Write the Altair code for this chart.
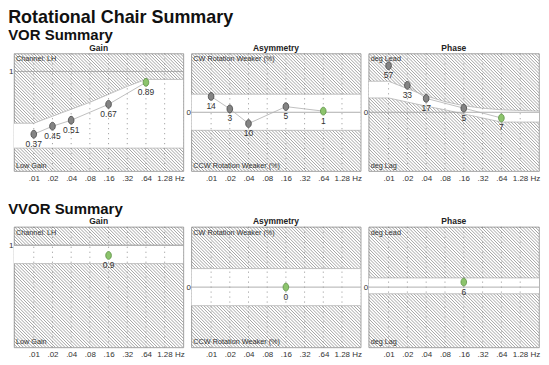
import altair as alt
import pandas as pd

# ---------------- data ----------------
tick_freqs = [0.01, 0.02, 0.04, 0.08, 0.16, 0.32, 0.64, 1.28]
tick_labels = [".01", ".02", ".04", ".08", ".16", ".32", ".64", "1.28 Hz"]

vor_freq = [0.01, 0.02, 0.04, 0.16, 0.64]
vor_gain = [0.37, 0.45, 0.51, 0.67, 0.89]
vor_gain_text = ["0.37", "0.45", "0.51", "0.67", "0.89"]
vor_asym = [14, 3, -10, 5, 1]
vor_asym_text = ["14", "3", "10", "5", "1"]
vor_phase = [57, 33, 17, 5, -7]
vor_phase_text = ["57", "33", "17", "5", "7"]
vor_current = [False, False, False, False, True]

vvor_freq = [0.16]
vvor_gain = [0.9]
vvor_gain_text = ["0.9"]
vvor_asym = [0]
vvor_asym_text = ["0"]
vvor_phase = [6]
vvor_phase_text = ["6"]
vvor_current = [True]

# normal-range bands
band_freq = [0.0048, 0.01, 0.02, 0.04, 0.08, 0.16, 0.32, 0.64, 2.56]
vor_gain_lo = [0.23, 0.23, 0.23, 0.23, 0.23, 0.23, 0.23, 0.23, 0.23]
vor_gain_hi = [0.48, 0.48, 0.55, 0.62, 0.69, 0.77, 0.85, 0.92, 0.92]
vor_asym_lo = [-16, -16, -16, -16, -16, -16, -16, -16, -16]
vor_asym_hi = [16, 16, 16, 16, 16, 16, 16, 16, 16]
vor_phase_lo = [17.5, 17.5, 12.5, 7.5, 3, -2, -7, -12, -12]
vor_phase_hi = [38, 38, 29, 20, 13, 8, 5, 3, 1.5]
vvor_gain_lo = [0.82, 0.82, 0.82, 0.82, 0.82, 0.82, 0.82, 0.82, 0.82]
vvor_gain_hi = [1.0, 1.0, 1.0, 1.0, 1.0, 1.0, 1.0, 1.0, 1.0]
vvor_asym_lo = [-16, -16, -16, -16, -16, -16, -16, -16, -16]
vvor_asym_hi = [16, 16, 16, 16, 16, 16, 16, 16, 16]
vvor_phase_lo = [-8, -8, -8, -8, -8, -8, -8, -8, -8]
vvor_phase_hi = [11, 11, 11, 11, 11, 11, 11, 11, 11]

# ---------------- style ----------------
FONT = "Liberation Sans"
XMIN, XMAX = 0.0048, 2.56
HATCH = "#858585"
W1, W2, W3 = 170, 170, 171
H1, H2 = 118, 121

label_expr = " : ".join(
    f"datum.value == {f} ? '{t}'" for f, t in zip(tick_freqs, tick_labels)
) + " : ''"

XAXIS = alt.Axis(
    values=tick_freqs, labelExpr=label_expr, ticks=False, domain=False,
    grid=False, labelFontSize=8, labelColor="#333", labelPadding=3,
    labelFont=FONT, title=None,
    labelAlign={"condition": {"test": "datum.value > 1", "value": "left"}, "value": "center"},
    labelOffset={"condition": {"test": "datum.value > 1", "value": -8}, "value": 0},
)


def yaxis(v):
    return alt.Axis(values=[v], ticks=False, domain=False, grid=False,
                    labelFontSize=8, labelColor="#333", labelPadding=1,
                    labelFont=FONT, title=None)


def X(field):
    return alt.X(field, type="quantitative",
                 scale=alt.Scale(type="log", domain=[XMIN, XMAX], nice=False),
                 axis=XAXIS)


def panel(title, W, H, ydom, yval, freq, vals, texts, current,
          lo, hi, ref, top_text, bot_text):
    ymin, ymax = ydom
    YAX = yaxis(yval)

    def Y(field):
        return alt.Y(field, type="quantitative",
                     scale=alt.Scale(domain=[ymin, ymax], nice=False, zero=False),
                     axis=YAX)

    ratio = XMAX / XMIN

    hatch = (
        alt.Chart(alt.sequence(-H, W + 4, 3.2, as_="t"))
        .transform_calculate(
            hx1=f"{XMIN}*pow({ratio}, datum.t/{W})",
            hx2=f"{XMIN}*pow({ratio}, (datum.t+{H})/{W})",
            hy1=f"{ymax}",
            hy2=f"{ymin}",
        )
        .mark_rule(clip=True, color=HATCH, strokeWidth=0.75)
        .encode(x=X("hx1"), x2="hx2:Q", y=Y("hy1"), y2="hy2:Q")
    )

    bdf = pd.DataFrame({"f": band_freq, "lo": lo, "hi": hi})
    band = alt.Chart(bdf).mark_area(color="white", opacity=1, clip=True).encode(
        x=X("f"), y=Y("lo"), y2="hi:Q")
    band_lo = alt.Chart(bdf).mark_line(color="#aaaaaa", strokeWidth=0.7, clip=True).encode(
        x=X("f"), y=Y("lo"))
    band_hi = alt.Chart(bdf).mark_line(color="#aaaaaa", strokeWidth=0.7, clip=True).encode(
        x=X("f"), y=Y("hi"))

    grid = alt.Chart(pd.DataFrame({"f": tick_freqs})).mark_rule(
        color="#777777", strokeWidth=0.8, strokeDash=[1, 4]
    ).encode(x=X("f"))

    refl = alt.Chart(pd.DataFrame({"r": [ref]})).mark_rule(
        color="#9a9a9a", strokeWidth=0.8
    ).encode(y=Y("r"))

    pdf = pd.DataFrame({"f": freq, "v": vals, "t": texts, "cur": current})
    line = alt.Chart(pdf).mark_line(color="#b0b0b0", strokeWidth=0.8).encode(
        x=X("f"), y=Y("v"))
    ellipse = "M0,-1 A0.72,1 0 1,1 0,1 A0.72,1 0 1,1 0,-1 Z"
    pts = alt.Chart(pdf).mark_point(
        shape=ellipse, filled=True, size=62, strokeWidth=0.8, opacity=1
    ).encode(
        x=X("f"), y=Y("v"),
        fill=alt.condition("datum.cur", alt.value("#8cc46c"), alt.value("#848484")),
        stroke=alt.condition("datum.cur", alt.value("#5a8f42"), alt.value("#454545")),
    )
    lbl = alt.Chart(pdf).mark_text(
        dy=9.5, fontSize=8.5, color="#333", font=FONT
    ).encode(x=X("f"), y=Y("v"), text="t:N")

    cdf = pd.DataFrame({"f": [XMIN, XMIN], "y": [ymax, ymin], "t": [top_text, bot_text],
                        "pos": ["top", "bottom"]})
    ctop = alt.Chart(cdf).transform_filter("datum.pos == 'top'").mark_text(
        align="left", baseline="top", dx=2, dy=2, fontSize=7.3, color="#333", font=FONT
    ).encode(x=X("f"), y=Y("y"), text="t:N")
    cbot = alt.Chart(cdf).transform_filter("datum.pos == 'bottom'").mark_text(
        align="left", baseline="bottom", dx=2, dy=-1, fontSize=7.3, color="#333", font=FONT
    ).encode(x=X("f"), y=Y("y"), text="t:N")

    return alt.layer(
        hatch, band, band_lo, band_hi, grid, refl, line, pts, lbl, ctop, cbot
    ).properties(
        width=W, height=H,
        title=alt.TitleParams(title, fontSize=8.5, fontWeight="bold", font=FONT,
                              color="#222", offset=1),
    )


row1 = alt.hconcat(
    panel("Gain", W1, H1, (0, 1.18), 1, vor_freq, vor_gain, vor_gain_text, vor_current,
          vor_gain_lo, vor_gain_hi, 1, "Channel: LH", "Low Gain"),
    panel("Asymmetry", W2, H1, (-52, 52), 0, vor_freq, vor_asym, vor_asym_text, vor_current,
          vor_asym_lo, vor_asym_hi, 0, "CW Rotation Weaker (%)", "CCW Rotation Weaker (%)"),
    panel("Phase", W3, H1, (-72, 72), 0, vor_freq, vor_phase, vor_phase_text, vor_current,
          vor_phase_lo, vor_phase_hi, 0, "deg Lead", "deg Lag"),
    spacing=8, bounds="flush",
    title=alt.TitleParams("VOR Summary", anchor="start", fontSize=15, fontWeight="bold",
                          font=FONT, color="#111", offset=0),
)

row2 = alt.hconcat(
    panel("Gain", W1, H2, (0, 1.18), 1, vvor_freq, vvor_gain, vvor_gain_text, vvor_current,
          vvor_gain_lo, vvor_gain_hi, 1, "Channel: LH", "Low Gain"),
    panel("Asymmetry", W2, H2, (-52, 52), 0, vvor_freq, vvor_asym, vvor_asym_text, vvor_current,
          vvor_asym_lo, vvor_asym_hi, 0, "CW Rotation Weaker (%)", "CCW Rotation Weaker (%)"),
    panel("Phase", W3, H2, (-72, 72), 0, vvor_freq, vvor_phase, vvor_phase_text, vvor_current,
          vvor_phase_lo, vvor_phase_hi, 0, "deg Lead", "deg Lag"),
    spacing=8, bounds="flush",
    title=alt.TitleParams("VVOR Summary", anchor="start", fontSize=15, fontWeight="bold",
                          font=FONT, color="#111", offset=0),
)

chart = alt.vconcat(
    row1, row2, spacing=18,
    title=alt.TitleParams("Rotational Chair Summary", anchor="start", fontSize=18,
                          fontWeight="bold", font=FONT, color="#111", offset=1),
).properties(padding=0).configure_view(stroke="#8a8a8a", strokeWidth=0.8)

chart.save("out.html", embed_options={"renderer": "svg", "actions": False})
